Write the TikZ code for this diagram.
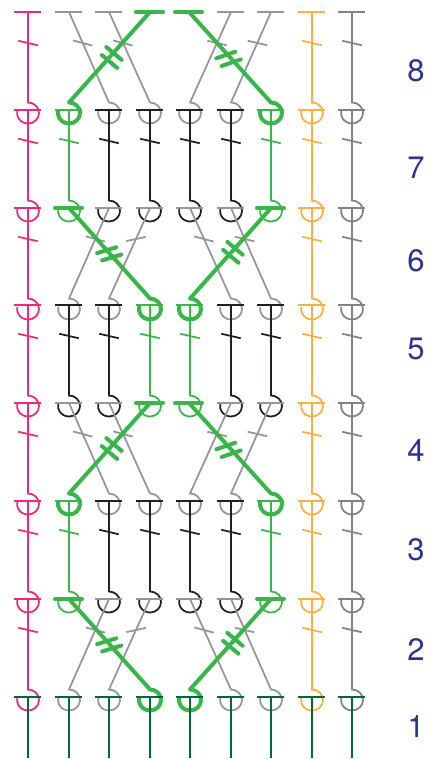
\documentclass[tikz,border=0pt]{standalone}
\usepackage{fontspec}
\setmainfont{TeX Gyre Heros}
\definecolor{yarnpink}{HTML}{EC297B}
\definecolor{yarngreen}{HTML}{39B54A}
\definecolor{yarnblack}{HTML}{231F20}
\definecolor{yarngray}{HTML}{939598}
\definecolor{yarnorange}{HTML}{FBB040}
\definecolor{yarnslate}{HTML}{808285}
\definecolor{yarnbase}{HTML}{006838}
\definecolor{rowblue}{HTML}{2E3192}
\tikzset{
  thinyarn/.style={line width=1.75pt},
  pinkyarn/.style={thinyarn, yarnpink},
  greenyarn/.style={thinyarn, yarngreen},
  blackyarn/.style={thinyarn, yarnblack},
  grayyarn/.style={thinyarn, yarngray},
  orangeyarn/.style={thinyarn, yarnorange},
  slateyarn/.style={thinyarn, yarnslate},
  baseyarn/.style={thinyarn, yarnbase},
  thickyarn/.style={line width=4pt, yarngreen, line cap=round, line join=round},
  rowlabel/.style={rowblue, font=\fontsize{31}{31}\selectfont},
}
% style, top x, bottom x, top y
\newcommand{\stitchbody}[4]{
  \draw[#1] (#2-14,#4) -- (#2+13,#4);
  \draw[#1] (#2,#4) -- (#3,#4+90.5) arc[start angle=90, end angle=-190, x radius=11pt, y radius=10.5pt];
}
% style, top x, bottom x, top y, tick angle
\newcommand{\stitch}[5]{
  \stitchbody{#1}{#2}{#3}{#4}
  \draw[#1, shift={(#2+0.34*#3-0.34*#2,#4+31)}, rotate=#5] (-10,0) -- (10,0);
}
% double tick: x1, y1, x2, y2, angle
\newcommand{\bartick}[5]{
  \draw[thickyarn, shift={(#1,#2)}, rotate=#5] (-10,0) -- (10,0);
  \draw[thickyarn, shift={(#3,#4)}, rotate=#5] (-10,0) -- (10,0);
}
% the three columns that never cross
\newcommand{\sidecols}[1]{
  \stitch{pinkyarn}{28}{28}{#1}{-13}
  \stitch{orangeyarn}{312}{312}{#1}{-13}
  \stitch{slateyarn}{352}{352}{#1}{-13}
}
% green runs from the middle out
\newcommand{\rowopen}[1]{
  \sidecols{#1}
  \stitch{grayyarn}{69}{109}{#1}{-15}
  \stitch{grayyarn}{109}{150}{#1}{-15}
  \stitch{grayyarn}{231}{190}{#1}{-13}
  \stitch{grayyarn}{271}{231}{#1}{-13}
  \stitchbody{thickyarn}{150}{69}{#1}
  \stitchbody{thickyarn}{189}{271}{#1}
}
% green runs from the outside in
\newcommand{\rowclose}[1]{
  \sidecols{#1}
  \stitch{grayyarn}{109}{69}{#1}{-15}
  \stitch{grayyarn}{150}{109}{#1}{12}
  \stitch{grayyarn}{190}{231}{#1}{-15}
  \stitch{grayyarn}{231}{271}{#1}{-13}
  \stitchbody{thickyarn}{69}{150}{#1}
  \stitchbody{thickyarn}{271}{190}{#1}
}
\begin{document}
\begin{tikzpicture}[x=1pt, y=-1pt]
  \useasboundingbox (0,0) rectangle (432,759);

  % Row 8
  \rowopen{12}
  \bartick{114}{53.5}{109.5}{61.5}{-40}
  \bartick{225.8}{55}{231.2}{62.7}{19}

  % Row 7
  \sidecols{110}
  \foreach \col in {109,150,190,231} {
    \stitch{blackyarn}{\col}{\col}{110}{-13}
  }
  \foreach \col in {69,271} {
    \stitch{greenyarn}{\col}{\col}{110}{-13}
  }

  % Row 6
  \rowclose{208}
  \bartick{106.7}{250.2}{111.7}{257.5}{17}
  \bartick{235}{248.3}{230.8}{256.3}{-40}

  % Row 5
  \sidecols{305}
  \foreach \col in {69,109,231,271} {
    \stitch{blackyarn}{\col}{\col}{305}{-13}
  }
  \foreach \col in {150,190} {
    \stitch{greenyarn}{\col}{\col}{305}{-13}
  }

  % Row 4
  \rowopen{403}
  \bartick{114}{444.5}{109.5}{452.5}{-40}
  \bartick{225.8}{446}{231.2}{453.7}{19}

  % Row 3
  \sidecols{501}
  \foreach \col in {109,150,190,231} {
    \stitch{blackyarn}{\col}{\col}{501}{-13}
  }
  \foreach \col in {69,271} {
    \stitch{greenyarn}{\col}{\col}{501}{-13}
  }

  % Row 2
  \rowclose{599}
  \bartick{106.7}{641.2}{111.7}{648.5}{17}
  \bartick{235}{639.3}{230.8}{647.3}{-40}

  % Row 1
  \foreach \col in {28,69,109,150,190,231,271,312,352} {
    \draw[baseyarn] (\col-14,697) -- (\col+13,697);
    \draw[baseyarn] (\col,697) -- (\col,758);
  }

  % Row numbers
  \node[rowlabel] (roweight) at (416,71) {8};
  \node[rowlabel] (rowseven) at (416,168) {7};
  \node[rowlabel] (rowsix) at (416,261) {6};
  \node[rowlabel] (rowfive) at (416,349) {5};
  \node[rowlabel] (rowfour) at (416,451) {4};
  \node[rowlabel] (rowthree) at (416,550) {3};
  \node[rowlabel] (rowtwo) at (416,650) {2};
  \node[rowlabel] (rowone) at (416,727) {1};
\end{tikzpicture}
\end{document}
